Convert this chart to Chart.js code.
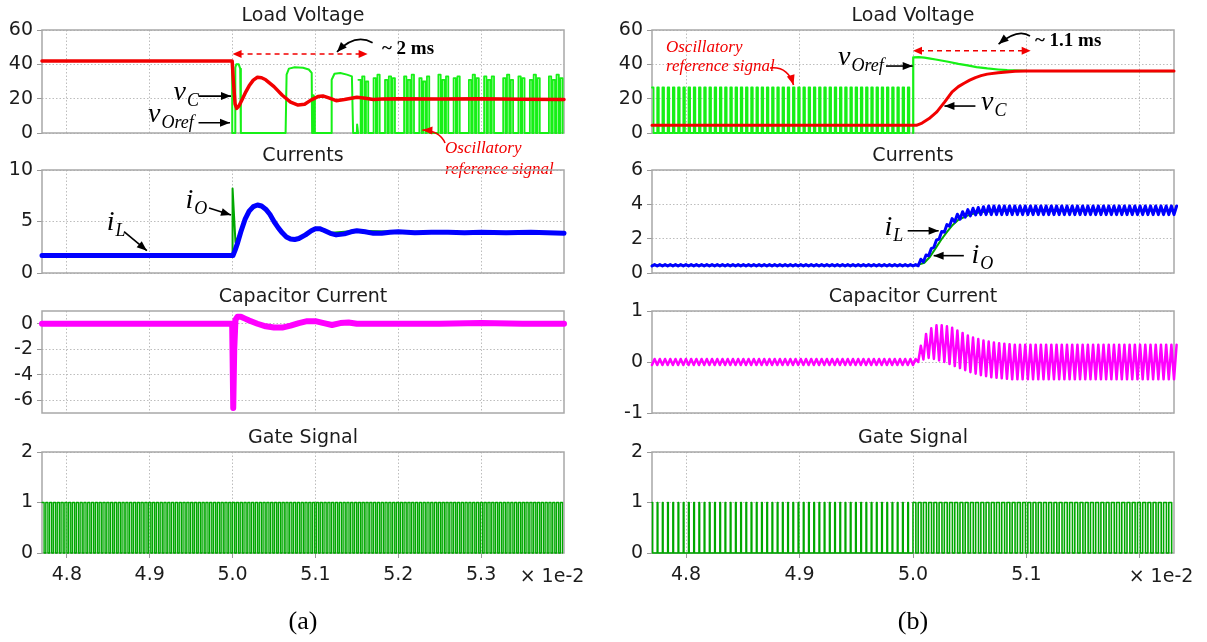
<!DOCTYPE html>
<html>
<head>
<meta charset="utf-8">
<script src="https://cdn.jsdelivr.net/npm/chart.js@4.4.1/dist/chart.umd.min.js"></script>
<style>
  html, body { margin: 0; padding: 0; background: #fff; }
  #fig { position: relative; width: 1207px; height: 642px; overflow: hidden; background: #fff; }
  #fig canvas { position: absolute; top: 0; }
</style>
</head>
<body>
<div id="fig"></div>
<script>
// ---------------- axes (time in units of 1e-2 s) ----------------
const xRangeA = [4.77, 5.40];
const xRangeB = [4.77, 5.23];
const xTicksA = [4.8, 4.9, 5.0, 5.1, 5.2, 5.3];
const xLabelsA = ['4.8', '4.9', '5.0', '5.1', '5.2', '5.3'];
const xTicksB = [4.8, 4.9, 5.0, 5.1, 5.2];
const xLabelsB = ['4.8', '4.9', '5.0', '5.1', ''];
const yTicksVolt = [0, 20, 40, 60];
const yTicksCurA = [0, 5, 10];
const yTicksCurB = [0, 2, 4, 6];
const yTicksCapA = [-6, -4, -2, 0];
const yRangeCapA = [-7, 1];
const yTicksCapB = [-1, 0, 1];
const yTicksGate = [0, 1, 2];

// switching grid: first switching instant and PWM period
const tSwitch0 = 4.77;
const tSwitchPeriod = 0.0046;

// ---------------- (a) load voltage ----------------
const vCA_t = [4.77, 4.9995, 5.001, 5.003, 5.005, 5.008, 5.012, 5.016, 5.02, 5.025, 5.03, 5.035, 5.04, 5.05, 5.06, 5.07, 5.079, 5.087, 5.095, 5.103, 5.109, 5.117, 5.125, 5.135, 5.15, 5.16, 5.17, 5.18, 5.2, 5.25, 5.3, 5.35, 5.40];
const vCA_v = [42, 42, 30, 17, 14.3, 16, 20, 24, 27.5, 30.8, 32.5, 32.2, 31, 27, 22, 18, 16.3, 16.8, 19.3, 21.2, 21.6, 20.3, 18.8, 19.5, 20.8, 20.3, 19.5, 19.8, 20, 19.8, 20, 19.6, 19.5];

// reference voltage up to the start of the fast oscillation
const vOrefA_t = [4.77, 4.9995, 4.9996, 5.0030, 5.0033, 5.0045, 5.0075, 5.0092, 5.0100,
  5.0640, 5.0652, 5.0680, 5.0750, 5.0850, 5.0920, 5.0955, 5.0960, 5.0975, 5.0978, 5.0990, 5.0993,
  5.1190, 5.1196, 5.1230, 5.1300, 5.1380, 5.1440, 5.1455, 5.1500, 5.1503, 5.1512, 5.1515];
const vOrefA_v = [42, 42, 0, 0, 38, 40, 40, 37.5, 0,
  0, 34, 37.5, 38.3, 38, 37, 35, 0, 0, 22, 20, 0,
  0, 31, 34.5, 35, 34, 33, 0, 0, 5, 5, 0];
// fast oscillation: pulse height in each switching period from period 83 on (0 = stays off)
const vOrefOscFirst = 83;
const vOrefOscA = [
  31, 33, 30, 0, 32, 34, 0, 31, 33, 32,
  0, 0, 33, 31, 34, 0, 32, 30, 33, 0,
  0, 34, 31, 33, 0, 32, 33, 0, 0, 31,
  34, 32, 0, 33, 31, 33, 0, 0, 32, 34,
  31, 0, 33, 32, 0, 31, 34, 32, 0, 0,
  33, 31, 34, 32];
const vOrefOscWidthA = 0.6;

// ---------------- (a) currents ----------------
const iLA_t = [4.77, 5.0005, 5.003, 5.006, 5.01, 5.015, 5.02, 5.025, 5.03, 5.035, 5.04, 5.045, 5.05, 5.055, 5.06, 5.065, 5.07, 5.075, 5.08, 5.088, 5.095, 5.1, 5.105, 5.11, 5.118, 5.125, 5.135, 5.143, 5.15, 5.16, 5.17, 5.18, 5.19, 5.2, 5.21, 5.22, 5.24, 5.26, 5.28, 5.3, 5.33, 5.36, 5.40];
const iLA_v = [1.7, 1.7, 2.2, 2.9, 4.0, 5.2, 6.0, 6.45, 6.6, 6.5, 6.2, 5.7, 5.0, 4.4, 3.9, 3.5, 3.3, 3.25, 3.35, 3.7, 4.1, 4.3, 4.3, 4.15, 3.85, 3.7, 3.8, 4.0, 4.1, 4.0, 3.85, 3.85, 3.95, 4.0, 3.95, 3.9, 3.95, 3.95, 3.9, 3.95, 3.9, 3.95, 3.85];
const iOA_t = [4.77, 4.9995, 5.0, 5.0035, 5.008, 5.012, 5.016, 5.02, 5.03, 5.04, 5.05, 5.06, 5.07, 5.08, 5.1, 5.12, 5.15, 5.2, 5.3, 5.4];
const iOA_v = [1.7, 1.7, 8.2, 3.0, 3.7, 4.6, 5.4, 6.0, 6.55, 6.2, 5.0, 3.9, 3.3, 3.35, 4.3, 3.9, 4.1, 4.0, 3.95, 3.9];

// ---------------- (a) capacitor current ----------------
const iCA_t = [4.77, 4.9995, 5.0008, 5.002, 5.0035, 5.006, 5.01, 5.015, 5.02, 5.03, 5.04, 5.05, 5.06, 5.07, 5.08, 5.09, 5.1, 5.11, 5.12, 5.13, 5.14, 5.15, 5.17, 5.2, 5.25, 5.3, 5.35, 5.40];
const iCA_v = [0, 0, -6.6, -2, 0.3, 0.55, 0.55, 0.4, 0.25, 0.0, -0.2, -0.3, -0.3, -0.15, 0.05, 0.2, 0.2, 0.05, -0.1, 0.05, 0.1, 0.0, 0, 0, 0, 0.05, 0, 0];

// ---------------- (a) gate signal: on-time fraction of each period ----------------
const gateDutyA = [
  0.55, 0.55, 0.55, 0.55, 0.55, 0.55, 0.55, 0.55, 0.55, 0.55,
  0.55, 0.55, 0.55, 0.55, 0.55, 0.55, 0.55, 0.55, 0.55, 0.55,
  0.55, 0.55, 0.55, 0.55, 0.55, 0.55, 0.55, 0.55, 0.55, 0.55,
  0.55, 0.55, 0.55, 0.55, 0.55, 0.55, 0.55, 0.55, 0.55, 0.55,
  0.55, 0.55, 0.55, 0.55, 0.55, 0.55, 0.55, 0.55, 0.55, 0.55,
  0.55, 0.55, 0.55, 0.55, 0.55, 0.55, 0.55, 0.55, 0.55, 0.55,
  0.55, 0.55, 0.55, 0.55, 0.55, 0.55, 0.55, 0.55, 0.55, 0.55,
  0.55, 0.55, 0.55, 0.55, 0.55, 0.55, 0.55, 0.55, 0.55, 0.55,
  0.55, 0.55, 0.55, 0.55, 0.55, 0.55, 0.55, 0.55, 0.55, 0.55,
  0.55, 0.55, 0.55, 0.55, 0.55, 0.55, 0.55, 0.55, 0.55, 0.55,
  0.55, 0.55, 0.55, 0.55, 0.55, 0.55, 0.55, 0.55, 0.55, 0.55,
  0.55, 0.55, 0.55, 0.55, 0.55, 0.55, 0.55, 0.55, 0.55, 0.55,
  0.55, 0.55, 0.55, 0.55, 0.55, 0.55, 0.55, 0.55, 0.55, 0.55,
  0.55, 0.55, 0.55, 0.55, 0.55, 0.55, 0.55];

// ---------------- (b) load voltage ----------------
const vCB_t = [4.77, 5.003, 5.008, 5.0142, 5.021, 5.0278, 5.0345, 5.04, 5.045, 5.05, 5.055, 5.06, 5.0655, 5.075, 5.0826, 5.09, 5.1, 5.23];
const vCB_v = [4.5, 4.5, 5.8, 8.4, 12.3, 18, 24, 27, 29, 30.8, 32.3, 33.4, 34.3, 35.1, 35.6, 35.9, 36.1, 36.1];
// oscillatory reference: pulse height of each period before the step
const vOrefPulseB = [
  26.5, 26.5, 26.5, 26.5, 26.5, 26.5, 26.5, 26.5, 26.5, 26.5,
  26.5, 26.5, 26.5, 26.5, 26.5, 26.5, 26.5, 26.5, 26.5, 26.5,
  26.5, 26.5, 26.5, 26.5, 26.5, 26.5, 26.5, 26.5, 26.5, 26.5,
  26.5, 26.5, 26.5, 26.5, 26.5, 26.5, 26.5, 26.5, 26.5, 26.5,
  26.5, 26.5, 26.5, 26.5, 26.5, 26.5, 26.5, 26.5, 26.5, 26.5];
const vOrefPulseWidthB = 0.3;
const vOrefB_t = [5.0, 5.0002, 5.005, 5.01, 5.014, 5.02, 5.031, 5.04, 5.048, 5.056, 5.0655, 5.075, 5.083, 5.1, 5.23];
const vOrefB_v = [0, 44, 44.2, 43.9, 43.5, 42.8, 41.5, 40.3, 39.4, 38.4, 37.6, 37, 36.6, 36.2, 36.1];

// ---------------- (b) currents: valley / peak of each period ----------------
const iLB_low = [
  0.41, 0.41, 0.41, 0.41, 0.41, 0.41, 0.41, 0.41, 0.41, 0.41,
  0.41, 0.41, 0.41, 0.41, 0.41, 0.41, 0.41, 0.41, 0.41, 0.41,
  0.41, 0.41, 0.41, 0.41, 0.41, 0.41, 0.41, 0.41, 0.41, 0.41,
  0.41, 0.41, 0.41, 0.41, 0.41, 0.41, 0.41, 0.41, 0.41, 0.41,
  0.41, 0.41, 0.41, 0.41, 0.41, 0.41, 0.41, 0.41, 0.41, 0.41,
  0.41, 0.42, 0.65, 1.0, 1.5, 1.98, 2.38, 2.73, 2.98, 3.13,
  3.25, 3.33, 3.38, 3.4, 3.4, 3.4, 3.4, 3.4, 3.4, 3.4,
  3.4, 3.4, 3.4, 3.4, 3.4, 3.4, 3.4, 3.4, 3.4, 3.4,
  3.4, 3.4, 3.4, 3.4, 3.4, 3.4, 3.4, 3.4, 3.4, 3.4,
  3.4, 3.4, 3.4, 3.4, 3.4, 3.4, 3.4, 3.4, 3.4, 3.4,
  3.4];
const iLB_high = [
  0.49, 0.49, 0.49, 0.49, 0.49, 0.49, 0.49, 0.49, 0.49, 0.49,
  0.49, 0.49, 0.49, 0.49, 0.49, 0.49, 0.49, 0.49, 0.49, 0.49,
  0.49, 0.49, 0.49, 0.49, 0.49, 0.49, 0.49, 0.49, 0.49, 0.49,
  0.49, 0.49, 0.49, 0.49, 0.49, 0.49, 0.49, 0.49, 0.49, 0.49,
  0.49, 0.49, 0.49, 0.49, 0.49, 0.49, 0.49, 0.49, 0.49, 0.49,
  0.49, 0.8, 1.05, 1.42, 1.92, 2.42, 2.82, 3.17, 3.42, 3.57,
  3.69, 3.77, 3.82, 3.86, 3.9, 3.9, 3.9, 3.9, 3.9, 3.9,
  3.9, 3.9, 3.9, 3.9, 3.9, 3.9, 3.9, 3.9, 3.9, 3.9,
  3.9, 3.9, 3.9, 3.9, 3.9, 3.9, 3.9, 3.9, 3.9, 3.9,
  3.9, 3.9, 3.9, 3.9, 3.9, 3.9, 3.9, 3.9, 3.9, 3.9,
  3.9];
const iOB_t = [4.77, 5.003, 5.01, 5.015, 5.02, 5.025, 5.03, 5.035, 5.04, 5.05, 5.06, 5.08, 5.23];
const iOB_v = [0.45, 0.45, 0.6, 0.95, 1.45, 1.95, 2.4, 2.8, 3.1, 3.4, 3.55, 3.63, 3.64];

// ---------------- (b) capacitor current: valley / peak of each period ----------------
const iCB_low = [
  -0.06, -0.06, -0.06, -0.06, -0.06, -0.06, -0.06, -0.06, -0.06, -0.06,
  -0.06, -0.06, -0.06, -0.06, -0.06, -0.06, -0.06, -0.06, -0.06, -0.06,
  -0.06, -0.06, -0.06, -0.06, -0.06, -0.06, -0.06, -0.06, -0.06, -0.06,
  -0.06, -0.06, -0.06, -0.06, -0.06, -0.06, -0.06, -0.06, -0.06, -0.06,
  -0.06, -0.06, -0.06, -0.06, -0.06, -0.06, -0.06, -0.06, -0.06, -0.06,
  -0.06, 0.0, 0.05, 0.08, 0.06, 0.03, 0.0, -0.04, -0.08, -0.12,
  -0.16, -0.2, -0.23, -0.26, -0.28, -0.3, -0.31, -0.32, -0.33, -0.34,
  -0.34, -0.34, -0.34, -0.34, -0.34, -0.34, -0.34, -0.34, -0.34, -0.34,
  -0.34, -0.34, -0.34, -0.34, -0.34, -0.34, -0.34, -0.34, -0.34, -0.34,
  -0.34, -0.34, -0.34, -0.34, -0.34, -0.34, -0.34, -0.34, -0.34, -0.34,
  -0.34];
const iCB_high = [
  0.06, 0.06, 0.06, 0.06, 0.06, 0.06, 0.06, 0.06, 0.06, 0.06,
  0.06, 0.06, 0.06, 0.06, 0.06, 0.06, 0.06, 0.06, 0.06, 0.06,
  0.06, 0.06, 0.06, 0.06, 0.06, 0.06, 0.06, 0.06, 0.06, 0.06,
  0.06, 0.06, 0.06, 0.06, 0.06, 0.06, 0.06, 0.06, 0.06, 0.06,
  0.06, 0.06, 0.06, 0.06, 0.06, 0.06, 0.06, 0.06, 0.06, 0.06,
  0.06, 0.32, 0.55, 0.66, 0.72, 0.72, 0.7, 0.67, 0.62, 0.57,
  0.52, 0.48, 0.45, 0.42, 0.4, 0.38, 0.37, 0.36, 0.35, 0.34,
  0.34, 0.34, 0.34, 0.34, 0.34, 0.34, 0.34, 0.34, 0.34, 0.34,
  0.34, 0.34, 0.34, 0.34, 0.34, 0.34, 0.34, 0.34, 0.34, 0.34,
  0.34, 0.34, 0.34, 0.34, 0.34, 0.34, 0.34, 0.34, 0.34, 0.34,
  0.34];

// ---------------- (b) gate signal: on-time fraction of each period ----------------
const gateDutyB = [
  0.12, 0.12, 0.12, 0.12, 0.12, 0.12, 0.12, 0.12, 0.12, 0.12,
  0.12, 0.12, 0.12, 0.12, 0.12, 0.12, 0.12, 0.12, 0.12, 0.12,
  0.12, 0.12, 0.12, 0.12, 0.12, 0.12, 0.12, 0.12, 0.12, 0.12,
  0.12, 0.12, 0.12, 0.12, 0.12, 0.12, 0.12, 0.12, 0.12, 0.12,
  0.12, 0.12, 0.12, 0.12, 0.12, 0.12, 0.12, 0.12, 0.12, 0.12,
  0.55, 0.55, 0.55, 0.55, 0.55, 0.55, 0.55, 0.55, 0.55, 0.55,
  0.55, 0.55, 0.55, 0.55, 0.55, 0.55, 0.55, 0.55, 0.55, 0.55,
  0.55, 0.55, 0.55, 0.55, 0.55, 0.55, 0.55, 0.55, 0.55, 0.55,
  0.55, 0.55, 0.55, 0.55, 0.55, 0.55, 0.55, 0.55, 0.55, 0.55,
  0.55, 0.55, 0.55, 0.55, 0.55, 0.55, 0.55, 0.55, 0.55, 0.55];

// ---------------- point builders ----------------
function pairs(ts, vs) { return ts.map((t, i) => ({ x: t, y: vs[i] })); }
// one rectangular pulse per switching period: level, then back to zero
function pulseTrain(heights, widths, firstPeriod) {
  const pts = [];
  const k0 = firstPeriod || 0;
  heights.forEach((h, k) => {
    const ts = tSwitch0 + (k0 + k) * tSwitchPeriod;
    const w = Array.isArray(widths) ? widths[k] : widths;
    pts.push({ x: ts, y: h }, { x: ts + w * tSwitchPeriod, y: 0 });
  });
  return pts;
}
// triangular ripple: valley at the switching instant, peak half a period later
function rippleTrain(lows, highs) {
  const pts = [];
  lows.forEach((lo, k) => {
    const ts = tSwitch0 + k * tSwitchPeriod;
    pts.push({ x: ts, y: lo }, { x: ts + tSwitchPeriod / 2, y: highs[k] });
  });
  return pts;
}

// ---------------- layout ----------------
const FIG_H = 642;
const colA = { left: 0, width: 603, plotL: 42, plotR: 564, range: xRangeA, ticks: xTicksA, labels: xLabelsA, caption: '(a)', unitX: 552 };
const colB = { left: 603, width: 604, plotL: 49, plotR: 571, range: xRangeB, ticks: xTicksB, labels: xLabelsB, caption: '(b)', unitX: 558 };
const rows = [
  { top: 30, bottom: 133, title: 'Load Voltage' },
  { top: 170, bottom: 273, title: 'Currents' },
  { top: 311, bottom: 413, title: 'Capacitor Current' },
  { top: 452, bottom: 553, title: 'Gate Signal' }
];

const RED = '#f20000', LIME = '#16f016', GREEN = '#00a800', BLUE = '#0000ff', MAGENTA = '#ff00ff';
const GRID = '#bdbdbd', FRAME = '#a8a8a8', INK = '#1c1c1c';
const TICK_FONT = { family: 'DejaVu Sans', size: 19 };
const SERIF = '"Liberation Serif", "DejaVu Serif", serif';

const fig = document.getElementById('fig');
function newCanvas(col) {
  const c = document.createElement('canvas');
  c.width = col.width; c.height = FIG_H;
  c.style.left = col.left + 'px';
  c.style.width = col.width + 'px'; c.style.height = FIG_H + 'px';
  fig.appendChild(c);
  return c;
}

// frame around the plotting area, drawn under the traces
const framePlugin = {
  id: 'frame',
  beforeDatasetsDraw(chart) {
    const a = chart.chartArea, ctx = chart.ctx;
    ctx.save();
    ctx.strokeStyle = FRAME; ctx.lineWidth = 1.5;
    ctx.strokeRect(a.left, a.top, a.right - a.left, a.bottom - a.top);
    ctx.restore();
  }
};

function headAt(ctx, x, y, ang, color, len = 10, half = 4) {
  ctx.save();
  ctx.fillStyle = color;
  ctx.beginPath();
  ctx.moveTo(x, y);
  ctx.lineTo(x - len * Math.cos(ang) + half * Math.sin(ang), y - len * Math.sin(ang) - half * Math.cos(ang));
  ctx.lineTo(x - len * Math.cos(ang) - half * Math.sin(ang), y - len * Math.sin(ang) + half * Math.cos(ang));
  ctx.closePath();
  ctx.fill();
  ctx.restore();
}

// panel title plus notes placed in data coordinates
function notesPlugin(title, notes, extra) {
  return {
    id: 'notes',
    afterDraw(chart) {
      const ctx = chart.ctx, a = chart.chartArea;
      const X = v => chart.scales.x.getPixelForValue(v);
      const Y = v => chart.scales.y.getPixelForValue(v);
      ctx.save();
      ctx.fillStyle = INK;
      ctx.font = '19px "DejaVu Sans"';
      ctx.textAlign = 'center'; ctx.textBaseline = 'middle';
      ctx.fillText(title, (a.left + a.right) / 2, a.top - 14);
      (notes || []).forEach(n => {
        if (n.kind === 'sym') {
          ctx.textAlign = 'left'; ctx.textBaseline = 'alphabetic';
          ctx.fillStyle = '#000';
          ctx.font = 'italic 28px ' + SERIF;
          const px = X(n.x), py = Y(n.y);
          ctx.fillText(n.main, px, py);
          const w = ctx.measureText(n.main).width;
          ctx.font = 'italic 18px ' + SERIF;
          ctx.fillText(n.sub, px + w + 1, py + 6);
        } else if (n.kind === 'text') {
          ctx.textAlign = 'left'; ctx.textBaseline = 'alphabetic';
          ctx.fillStyle = n.color; ctx.font = n.font;
          ctx.fillText(n.text, X(n.x), Y(n.y));
        } else if (n.kind === 'arrow') {
          const x1 = X(n.x1), y1 = Y(n.y1), x2 = X(n.x2), y2 = Y(n.y2);
          ctx.strokeStyle = n.color; ctx.lineWidth = 1.6;
          ctx.beginPath(); ctx.moveTo(x1, y1); ctx.lineTo(x2, y2); ctx.stroke();
          headAt(ctx, x2, y2, Math.atan2(y2 - y1, x2 - x1), n.color);
        } else if (n.kind === 'curve') {
          const x1 = X(n.x1), y1 = Y(n.y1), cx = X(n.cx), cy = Y(n.cy), x2 = X(n.x2), y2 = Y(n.y2);
          ctx.strokeStyle = n.color; ctx.lineWidth = 1.6;
          ctx.beginPath(); ctx.moveTo(x1, y1); ctx.quadraticCurveTo(cx, cy, x2, y2); ctx.stroke();
          headAt(ctx, x2, y2, Math.atan2(y2 - cy, x2 - cx), n.color);
        } else if (n.kind === 'span') {
          const x1 = X(n.x1), x2 = X(n.x2), y = Y(n.y);
          ctx.strokeStyle = n.color; ctx.lineWidth = 1.6; ctx.setLineDash([5, 4]);
          ctx.beginPath(); ctx.moveTo(x1 + 6, y); ctx.lineTo(x2 - 6, y); ctx.stroke();
          ctx.setLineDash([]);
          headAt(ctx, x1, y, Math.PI, n.color, 9, 4);
          headAt(ctx, x2, y, 0, n.color, 9, 4);
        }
      });
      if (extra) extra(ctx, a);
      ctx.restore();
    }
  };
}

function axisGrid(drawTicks) {
  return { color: GRID, lineWidth: 1, borderDash: [1.5, 2], drawTicks, tickLength: 5,
           tickColor: '#999', tickWidth: 1, tickBorderDash: [] };
}

function makePanel(col, row, yTicks, yRange, datasets, notes, bottom) {
  const xh = bottom ? 40 : 0;
  const extra = bottom ? (ctx, a) => {
    ctx.fillStyle = INK; ctx.font = '19px "DejaVu Sans"';
    ctx.textAlign = 'center'; ctx.textBaseline = 'middle';
    ctx.fillText('\u00d7 1e-2', col.unitX, a.bottom + 24);
    ctx.font = '26px ' + SERIF; ctx.fillStyle = '#000';
    ctx.fillText(col.caption, (a.left + a.right) / 2, a.bottom + 69);
  } : null;
  return new Chart(newCanvas(col), {
    type: 'line',
    data: { datasets },
    options: {
      responsive: false, animation: false, events: [], devicePixelRatio: 1,
      layout: { padding: { left: 0, top: row.top, right: col.width - col.plotR, bottom: FIG_H - row.bottom - xh } },
      plugins: { legend: { display: false }, tooltip: { enabled: false }, title: { display: false } },
      elements: { point: { radius: 0 }, line: { tension: 0, borderJoinStyle: 'round', borderCapStyle: 'round' } },
      scales: {
        x: {
          type: 'linear', min: col.range[0], max: col.range[1],
          afterBuildTicks: s => { s.ticks = col.ticks.map(v => ({ value: v })); },
          afterFit: s => { s.height = xh; },
          ticks: { display: bottom, autoSkip: false, maxRotation: 0, padding: 6, font: TICK_FONT, color: INK,
                   callback: (v, i) => col.labels[i] },
          grid: axisGrid(bottom),
          border: { display: false, dash: [1.5, 2] }
        },
        y: {
          min: yRange[0], max: yRange[1],
          afterBuildTicks: s => { s.ticks = yTicks.map(v => ({ value: v })); },
          afterFit: s => { s.width = col.plotL; },
          ticks: { padding: 4, font: TICK_FONT, color: INK, callback: v => String(v) },
          grid: axisGrid(true),
          border: { display: false, dash: [1.5, 2] }
        }
      }
    },
    plugins: [framePlugin, notesPlugin(row.title, notes, extra)]
  });
}

function trace(data, color, width, stepped) {
  return { data, borderColor: color, borderWidth: width, stepped: stepped || false, fill: false, clip: 4, pointRadius: 0 };
}

// ================= column (a) =================
makePanel(colA, rows[0], yTicksVolt, [0, 60], [
  trace(pairs(vCA_t, vCA_v), RED, 3.5),
  trace(pairs(vOrefA_t, vOrefA_v), LIME, 2),
  trace(pulseTrain(vOrefOscA, vOrefOscWidthA, vOrefOscFirst), LIME, 1.8, 'before')
], [
  { kind: 'sym', main: 'v', sub: 'C', x: 4.9288, y: 19.2 },
  { kind: 'arrow', x1: 4.9589, y1: 21.5, x2: 4.9981, y2: 21.5, color: '#000' },
  { kind: 'sym', main: 'v', sub: 'Oref', x: 4.898, y: 6.4 },
  { kind: 'arrow', x1: 4.9589, y1: 6.0, x2: 4.9969, y2: 6.0, color: '#000' },
  { kind: 'span', x1: 5.0, x2: 5.163, y: 46.0, color: RED },
  { kind: 'text', text: '~ 2 ms', font: 'bold 19px ' + SERIF, color: '#000', x: 5.1803, y: 46.2 },
  { kind: 'curve', x1: 5.169, y1: 52.6, cx: 5.1478, cy: 58.3, x2: 5.126, y2: 47.2, color: '#000' },
  { kind: 'text', text: 'Oscillatory', font: 'italic 17px ' + SERIF, color: RED, x: 5.2564, y: -11.6 },
  { kind: 'text', text: 'reference signal', font: 'italic 17px ' + SERIF, color: RED, x: 5.2564, y: -23.9 },
  { kind: 'curve', x1: 5.2564, y1: -5.8, cx: 5.2503, cy: 1.2, x2: 5.2291, y2: 1.75, color: RED }
], false);

makePanel(colA, rows[1], yTicksCurA, [0, 10], [
  trace(pairs(iLA_t, iLA_v), BLUE, 5),
  trace(pairs(iOA_t, iOA_v), GREEN, 2)
], [
  { kind: 'sym', main: 'i', sub: 'O', x: 4.9433, y: 6.3 },
  { kind: 'arrow', x1: 4.9716, y1: 6.31, x2: 4.9981, y2: 5.63, color: '#000' },
  { kind: 'sym', main: 'i', sub: 'L', x: 4.8481, y: 4.17 },
  { kind: 'arrow', x1: 4.869, y1: 4.01, x2: 4.8966, y2: 2.17, color: '#000' }
], false);

makePanel(colA, rows[2], yTicksCapA, yRangeCapA, [
  trace(pairs(iCA_t, iCA_v), MAGENTA, 6)
], [], false);

makePanel(colA, rows[3], yTicksGate, [0, 2], [
  trace(pulseTrain(gateDutyA.map(() => 1), gateDutyA), GREEN, 1.4, 'before')
], [], true);

// ================= column (b) =================
makePanel(colB, rows[0], yTicksVolt, [0, 60], [
  trace(pairs(vCB_t, vCB_v), RED, 3),
  trace(pulseTrain(vOrefPulseB, vOrefPulseWidthB), LIME, 1.8, 'before'),
  trace(pairs(vOrefB_t, vOrefB_v), LIME, 2.2)
], [
  { kind: 'text', text: 'Oscillatory', font: 'italic 17px ' + SERIF, color: RED, x: 4.7823, y: 47.2 },
  { kind: 'text', text: 'reference signal', font: 'italic 17px ' + SERIF, color: RED, x: 4.7823, y: 36.1 },
  { kind: 'curve', x1: 4.874, y1: 37.9, cx: 4.8898, cy: 39.0, x2: 4.8947, y2: 28, color: RED },
  { kind: 'sym', main: 'v', sub: 'Oref', x: 4.9339, y: 39.6 },
  { kind: 'arrow', x1: 4.9762, y1: 39.0, x2: 4.9997, y2: 39.0, color: '#000' },
  { kind: 'span', x1: 5.0, x2: 5.1037, y: 47.9, color: RED },
  { kind: 'text', text: '~ 1.1 ms', font: 'bold 19px ' + SERIF, color: '#000', x: 5.1075, y: 50.5 },
  { kind: 'curve', x1: 5.1031, y1: 56.5, cx: 5.0925, cy: 61.2, x2: 5.0754, y2: 51.8, color: '#000' },
  { kind: 'sym', main: 'v', sub: 'C', x: 5.0599, y: 13.4 },
  { kind: 'arrow', x1: 5.055, y1: 15.7, x2: 5.0277, y2: 15.7, color: '#000' }
], false);

makePanel(colB, rows[1], yTicksCurB, [0, 6], [
  trace(rippleTrain(iLB_low, iLB_high), BLUE, 3),
  trace(pairs(iOB_t, iOB_v), GREEN, 2)
], [
  { kind: 'sym', main: 'i', sub: 'L', x: 4.9748, y: 2.21 },
  { kind: 'arrow', x1: 4.9953, y1: 2.46, x2: 5.0226, y2: 2.46, color: '#000' },
  { kind: 'sym', main: 'i', sub: 'O', x: 5.0516, y: 0.58 },
  { kind: 'arrow', x1: 5.0448, y1: 1.01, x2: 5.0182, y2: 1.01, color: '#000' }
], false);

makePanel(colB, rows[2], yTicksCapB, [-1, 1], [
  trace(rippleTrain(iCB_low, iCB_high), MAGENTA, 2.5)
], [], false);

makePanel(colB, rows[3], yTicksGate, [0, 2], [
  trace(pulseTrain(gateDutyB.map(() => 1), gateDutyB), GREEN, 1.6, 'before')
], [], true);
</script>
</body>
</html>
